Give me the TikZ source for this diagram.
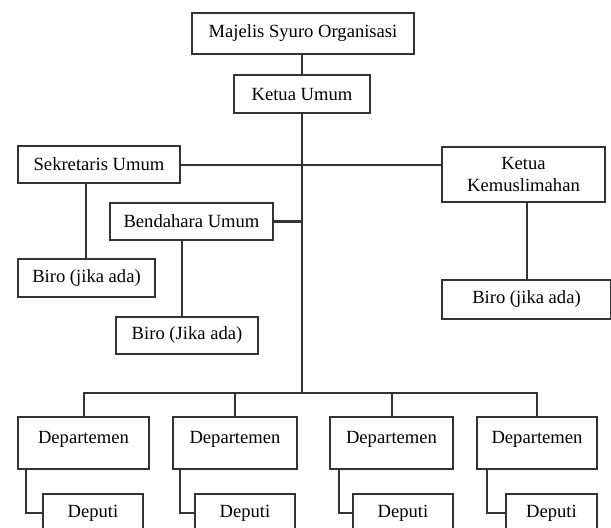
\documentclass[tikz,border=0pt]{standalone}
\usepackage{fontspec}
\setmainfont{Liberation Serif}
\usetikzlibrary{positioning}

\begin{document}
\begin{tikzpicture}[
	x=0.5pt, y=-0.5pt,
	every node/.style = {font=\fontsize{9.3}{11}\selectfont},
	line/.style = {draw=black!80, line width=1pt},
	box/.style 2 args = {draw=black!80, line width=1.1pt, inner sep=0pt, align=center, minimum width=#1, minimum height=#2}
	]
	\clip (0,0) rectangle (611,527);

	\coordinate (bus) at (302,393);

	\node[box={111pt}{20.5pt}] (majelis) at (303,33.5) {Majelis Syuro Organisasi};
	\node[box={68pt}{19pt}] (ketua) at (302,94) {Ketua Umum};
	\node[box={81pt}{18.5pt}] (sekum) at (99,164.5) {Sekretaris Umum};
	\node[box={81.5pt}{27.5pt}] (kemus) at (523.5,174.5) {Ketua\\Kemuslimahan};
	\node[box={81.5pt}{18.5pt}] (bendum) at (191.5,221.5) {Bendahara Umum};
	\node[box={68.5pt}{19pt}] (biro sek) at (86.5,278) {Biro (jika ada)};
	\node[box={71pt}{18.5pt}] (biro ben) at (187,335.5) {Biro (Jika ada)};
	\node[box={84.5pt}{19.5pt}] (biro kem) at (526.5,299.5) {Biro (jika ada)};

	\node[box={65.5pt}{26pt}, text height=7pt, text depth=7pt] (dep1) at (83.5,443) {Departemen};
	\node[box={62pt}{26pt}, text height=7pt, text depth=7pt] (dep2) at (235,443) {Departemen};
	\node[box={61.5pt}{26pt}, text height=7pt, text depth=7pt] (dep3) at (391.5,443) {Departemen};
	\node[box={60pt}{26pt}, text height=7pt, text depth=7pt] (dep4) at (537,443) {Departemen};

	\node[box={50pt}{19pt}] (dep1 deputi) at (93,513) {Deputi};
	\node[box={50pt}{19pt}] (dep2 deputi) at (245,513) {Deputi};
	\node[box={50pt}{19pt}] (dep3 deputi) at (403,513) {Deputi};
	\node[box={45.5pt}{19pt}] (dep4 deputi) at (551.5,513) {Deputi};

	\draw[line] (ketua.north) to (ketua.north |- majelis.south);
	\draw[line, line width=1.4pt] (ketua.south) to (bus);
	\draw[line] (sekum.east) to (sekum.east -| kemus.west);
	\draw[line, line width=1.3pt] (bendum.east) to (bendum.east -| bus);

	\draw[line] ([xshift=-0.5pt]biro sek.north) to ([xshift=-0.5pt]biro sek.north |- sekum.south);
	\draw[line] ([xshift=-2.5pt]biro ben.north) to ([xshift=-2.5pt]biro ben.north |- bendum.south);
	\draw[line] (biro kem.north) to (biro kem.north |- kemus.south);

	\draw[line] (dep1.north) |- (bus) -| (dep4.north);
	\draw[line] (dep2.north) to (dep2.north |- bus);
	\draw[line] (dep3.north) to (dep3.north |- bus);

	\draw[line] ([xshift=4.5pt]dep1.south west) |- (dep1 deputi.west);
	\draw[line] ([xshift=4pt]dep2.south west) |- (dep2 deputi.west);
	\draw[line] ([xshift=5pt]dep3.south west) |- (dep3 deputi.west);
	\draw[line] ([xshift=5.5pt]dep4.south west) |- (dep4 deputi.west);

\end{tikzpicture}
\end{document}
